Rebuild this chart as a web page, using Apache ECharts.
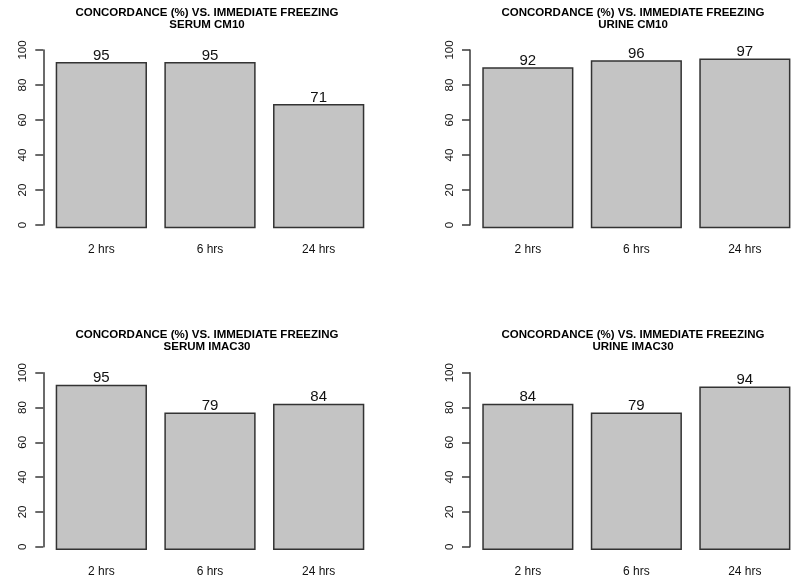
<!DOCTYPE html>
<html>
<head>
<meta charset="utf-8">
<script src="https://cdn.jsdelivr.net/npm/echarts@6/dist/echarts.min.js"></script>
<style>
  html, body { margin: 0; padding: 0; background: #fff; }
  #chart { width: 800px; height: 584px; }
</style>
</head>
<body>
<div id="chart"></div>
<script>
const categories = ['2 hrs', '6 hrs', '24 hrs']
const serumCM10 = [95, 95, 71]
const urineCM10 = [92, 96, 97]
const serumIMAC30 = [95, 79, 84]
const urineIMAC30 = [84, 79, 94]
const yTicks = [0, 20, 40, 60, 80, 100]
const headline = 'CONCORDANCE (%) VS. IMMEDIATE FREEZING'
const subtitles = ['SERUM CM10', 'URINE CM10', 'SERUM IMAC30', 'URINE IMAC30']

const panelData = [serumCM10, urineCM10, serumIMAC30, urineIMAC30]

// panel layout: grid box (plot region 0..100) and where the y axis line sits
const panels = [
  { left: 47, width: 326, top: 50, bottom: 225, axisX: 43.3, titleX: 207, titleY: 7 },
  { left: 473.6, width: 325.5, top: 50, bottom: 225, axisX: 470, titleX: 633, titleY: 7 },
  { left: 47, width: 326, top: 372.7, bottom: 546.7, axisX: 43.3, titleX: 207, titleY: 329 },
  { left: 473.6, width: 325.5, top: 372.7, bottom: 546.7, axisX: 470, titleX: 633, titleY: 329 },
]

const fontFamily = '"Liberation Sans", Arial, Helvetica, sans-serif'
const axisColor = '#3a3a3a'
// bars sit ~1.9 units below the zero tick in the original plot
const barShift = 1.9

const grid = []
const xAxis = []
const yAxis = []
const series = []
const title = []

panels.forEach((p, i) => {
  grid.push({ left: p.left, width: p.width, top: p.top, height: p.bottom - p.top })

  title.push({
    text: headline + '\n' + subtitles[i],
    left: p.titleX,
    top: p.titleY,
    textAlign: 'center',
    padding: 0,
    textStyle: { fontFamily, fontSize: 11.5, fontWeight: 'bold', color: '#000', lineHeight: 12 },
  })

  xAxis.push({
    type: 'category',
    gridIndex: i,
    data: categories,
    boundaryGap: true,
    axisLine: { show: false },
    axisTick: { show: false },
    axisLabel: { margin: 19, fontFamily, fontSize: 12, color: '#111' },
  })

  // visible R-style axis
  yAxis.push({
    type: 'value',
    gridIndex: i,
    min: 0,
    max: 100,
    interval: 20,
    offset: p.left - p.axisX,
    splitLine: { show: false },
    axisLine: { show: true, lineStyle: { color: axisColor, width: 1.5 } },
    axisTick: { show: true, length: 8, lineStyle: { color: axisColor, width: 1.5 } },
    axisLabel: {
      rotate: 90,
      margin: 14,
      fontFamily,
      fontSize: 11.5,
      color: '#111',
      formatter: (v) => (yTicks.includes(v) ? String(v) : ''),
    },
  })
  // hidden axis carrying the bars
  yAxis.push({
    type: 'value',
    gridIndex: i,
    min: barShift,
    max: 100 + barShift,
    show: false,
    splitLine: { show: false },
  })

  series.push({
    type: 'bar',
    xAxisIndex: i,
    yAxisIndex: i * 2 + 1,
    data: panelData[i],
    clip: false,
    barCategoryGap: '16%',
    itemStyle: { color: '#c4c4c4', borderColor: '#333', borderWidth: 1.5 },
    label: {
      show: true,
      position: 'top',
      distance: -1,
      fontFamily,
      fontSize: 15,
      color: '#111',
    },
    emphasis: { disabled: true },
  })
})

const myChart = echarts.init(document.getElementById('chart'), null, { renderer: 'canvas' })
myChart.setOption({
  animation: false,
  backgroundColor: '#fff',
  title,
  grid,
  xAxis,
  yAxis,
  series,
})
</script>
</body>
</html>
